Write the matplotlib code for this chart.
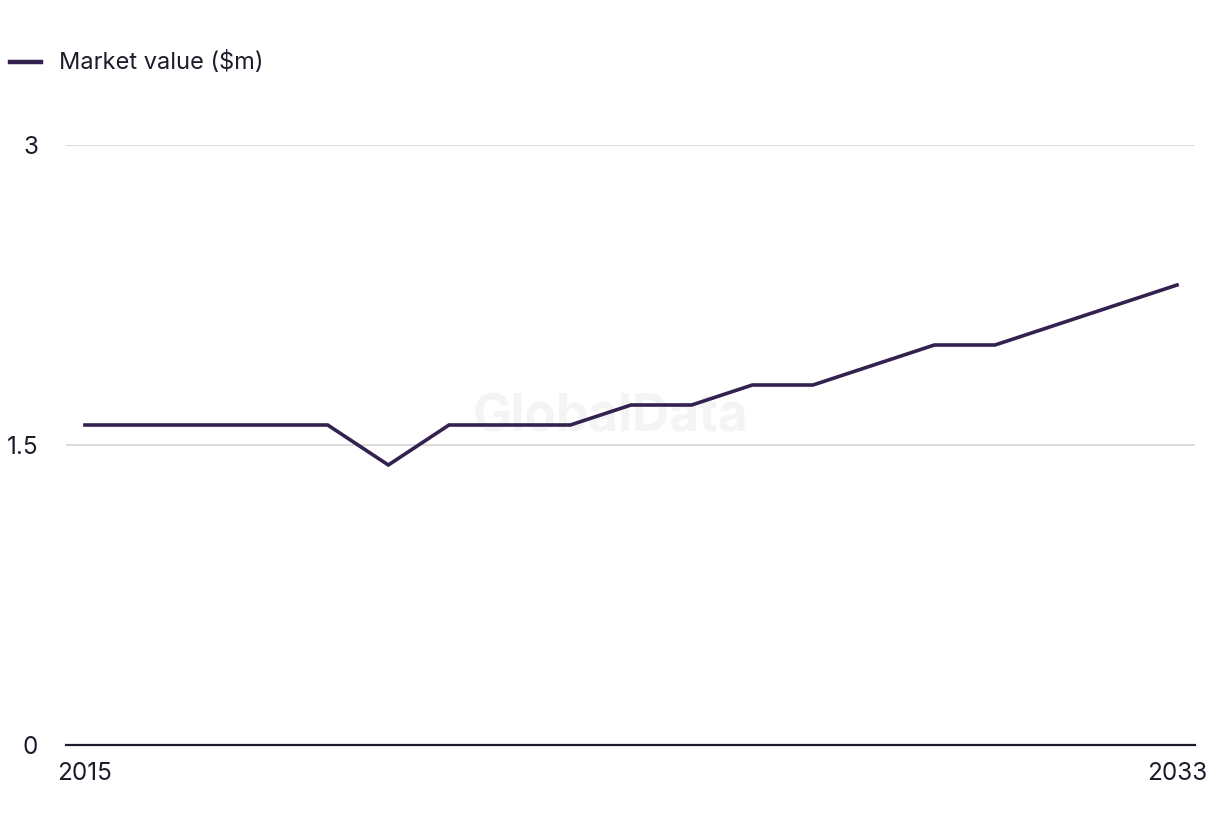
import matplotlib
matplotlib.use("Agg")
import matplotlib.pyplot as plt

# Data
years = list(range(2015, 2034))
values = [1.6, 1.6, 1.6, 1.6, 1.6, 1.4, 1.6, 1.6, 1.6, 1.7,
          1.7, 1.8, 1.8, 1.9, 2.0, 2.0, 2.1, 2.2, 2.3]
yticks = [0, 1.5, 3]
ytick_labels = ["0", "1.5", "3"]
series_name = "Market value ($m)"

LINE_COLOR = "#33214f"
TEXT_COLOR = "#1c1c2b"

plt.rcParams['font.family'] = ['Inter', 'DejaVu Sans']

fig = plt.figure(figsize=(12.2, 8.36), dpi=100)
ax = fig.add_axes([66 / 1220, 1 - 745 / 836, (1195 - 66) / 1220, 600 / 836])

ax.plot(years, values, color=LINE_COLOR, linewidth=2.6, solid_joinstyle='miter', zorder=3)

ax.set_xlim(2015 - 19 / 60.67, 2033 + 18 / 60.67)
ax.set_ylim(0, 3)

for s in ["top", "right", "left"]:
    ax.spines[s].set_visible(False)
ax.spines["bottom"].set_color(TEXT_COLOR)
ax.spines["bottom"].set_linewidth(1.6)
ax.spines["bottom"].set_zorder(4)

ax.set_yticks(yticks)
ax.set_yticklabels(ytick_labels)
ax.set_xticks([years[0], years[-1]])
ax.set_xticklabels([str(years[0]), str(years[-1])])
ax.tick_params(axis="both", length=0, labelsize=17.5, colors=TEXT_COLOR)
ax.tick_params(axis="y", pad=20)
ax.tick_params(axis="x", pad=12)
ax.grid(axis="y", color="#d9d9d9", linewidth=1.3)
ax.set_axisbelow(True)

# watermark, behind the line
ax.text(0.482, 0.545, "GlobalData", fontsize=37, fontweight="bold", color="#f4f4f4",
        ha="center", va="center", zorder=1, transform=ax.transAxes)

# legend drawn by hand in the top left
fig.lines.append(plt.Line2D([10 / 1220, 41 / 1220], [1 - 62 / 836] * 2,
                            transform=fig.transFigure, color=LINE_COLOR, linewidth=3.2))
fig.text(59 / 1220, 1 - 62 / 836, series_name, fontsize=17, color=TEXT_COLOR,
         ha="left", va="center")

fig.savefig("out.png", dpi=100, facecolor="white")
